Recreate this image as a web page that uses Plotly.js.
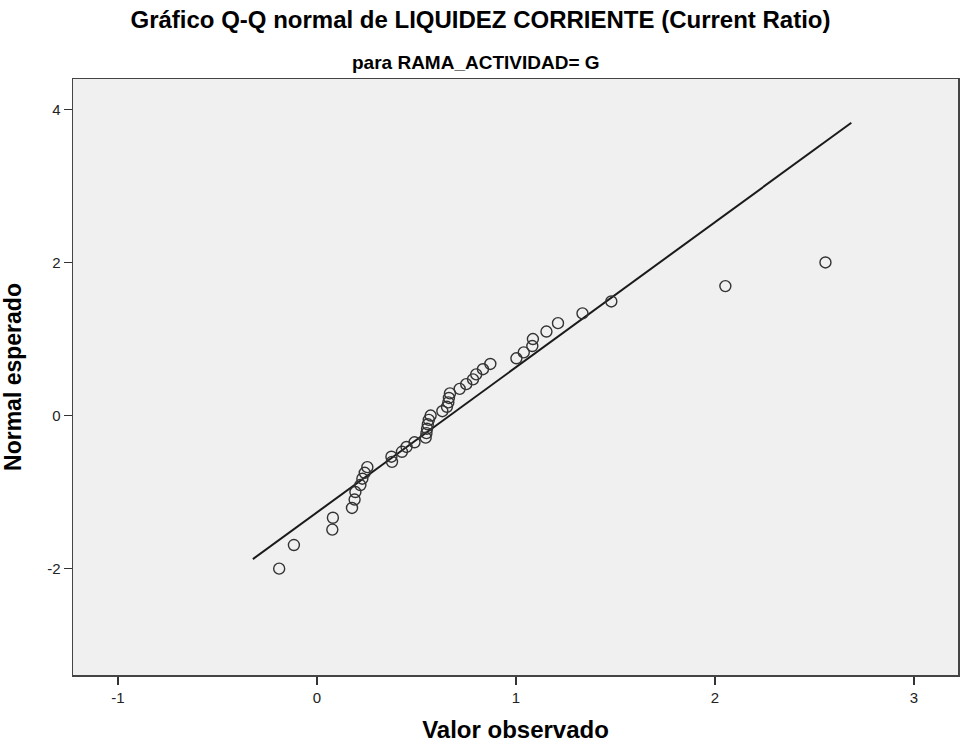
<!DOCTYPE html>
<html>
<head>
<meta charset="utf-8">
<script src="https://cdn.plot.ly/plotly-3.0.1.min.js"></script>
<style>html,body{margin:0;padding:0;background:#fff;}#chart{width:961px;height:749px;}</style>
</head>
<body>
<div id="chart"></div>
<script>
// Observed values (x) and expected normal values (y)
var observado = [-0.19, -0.116, 0.077, 0.08, 0.176, 0.189, 0.193, 0.218, 0.228, 0.24, 0.253,
  0.377, 0.374, 0.427, 0.45, 0.49, 0.546, 0.55, 0.553, 0.557, 0.562, 0.571,
  0.63, 0.653, 0.66, 0.663, 0.668, 0.717, 0.75, 0.784, 0.80, 0.834, 0.871,
  1.002, 1.039, 1.082, 1.085, 1.153, 1.211, 1.334, 1.479, 2.052, 2.555];
var esperado = [-2.000, -1.691, -1.490, -1.335, -1.207, -1.097, -0.999, -0.908, -0.825, -0.748, -0.674,
  -0.605, -0.538, -0.473, -0.410, -0.349, -0.289, -0.230, -0.172, -0.114, -0.057, 0.000,
  0.057, 0.114, 0.172, 0.230, 0.289, 0.349, 0.410, 0.473, 0.538, 0.605, 0.674,
  0.748, 0.825, 0.908, 0.999, 1.097, 1.207, 1.335, 1.490, 1.691, 2.000];
// Reference line endpoints
var lineaX = [-0.322, 2.685];
var lineaY = [-1.875, 3.825];
var xTicks = [-1, 0, 1, 2, 3];
var yTicks = [-2, 0, 2, 4];

var traces = [
  {x: lineaX, y: lineaY, type: 'scatter', mode: 'lines',
   line: {color: '#1a1a1a', width: 2}, hoverinfo: 'skip', showlegend: false},
  {x: observado, y: esperado, type: 'scatter', mode: 'markers',
   marker: {symbol: 'circle-open', size: 11, color: '#333333', line: {width: 1.4}},
   showlegend: false}
];

var layout = {
  width: 961, height: 749,
  paper_bgcolor: '#ffffff', plot_bgcolor: '#f0f0f0',
  margin: {l: 73, r: 3, t: 79, b: 74},
  font: {family: 'Liberation Sans, Arial, sans-serif', color: '#000'},
  title: {text: 'Gráfico Q-Q normal de LIQUIDEZ CORRIENTE (Current Ratio)',
    font: {size: 24, weight: 'bold', color: '#000'},
    x: 0.5, xanchor: 'center', xref: 'container',
    y: 1 - 20/749, yanchor: 'middle', yref: 'container'},
  annotations: [{text: '<b>para RAMA_ACTIVIDAD= G</b>', xref: 'paper', yref: 'paper',
    x: 0.455, y: 1.0285, xanchor: 'center', yanchor: 'middle', showarrow: false,
    font: {size: 19, color: '#000'}}],
  xaxis: {range: [-1.226, 3.221], tickvals: xTicks, ticktext: xTicks.map(String),
    showgrid: false, zeroline: false, showline: true, mirror: true, linecolor: '#444', linewidth: 1.5,
    ticks: 'outside', ticklen: 8, tickwidth: 1.5, tickcolor: '#333',
    tickfont: {size: 15, color: '#222'},
    title: {text: '<b>Valor observado</b>', font: {size: 24, color: '#000'}, standoff: 16}},
  yaxis: {range: [-3.389, 4.396], tickvals: yTicks, ticktext: yTicks.map(String),
    showgrid: false, zeroline: false, showline: true, mirror: true, linecolor: '#444', linewidth: 1.5,
    ticks: 'outside', ticklen: 8, tickwidth: 1.5, tickcolor: '#333',
    tickfont: {size: 15, color: '#222'},
    title: {text: '<b>Normal esperado</b>', font: {size: 23, color: '#000'}, standoff: 20}}
};

Plotly.newPlot('chart', traces, layout, {displayModeBar: false, staticPlot: true});
</script>
</body>
</html>
